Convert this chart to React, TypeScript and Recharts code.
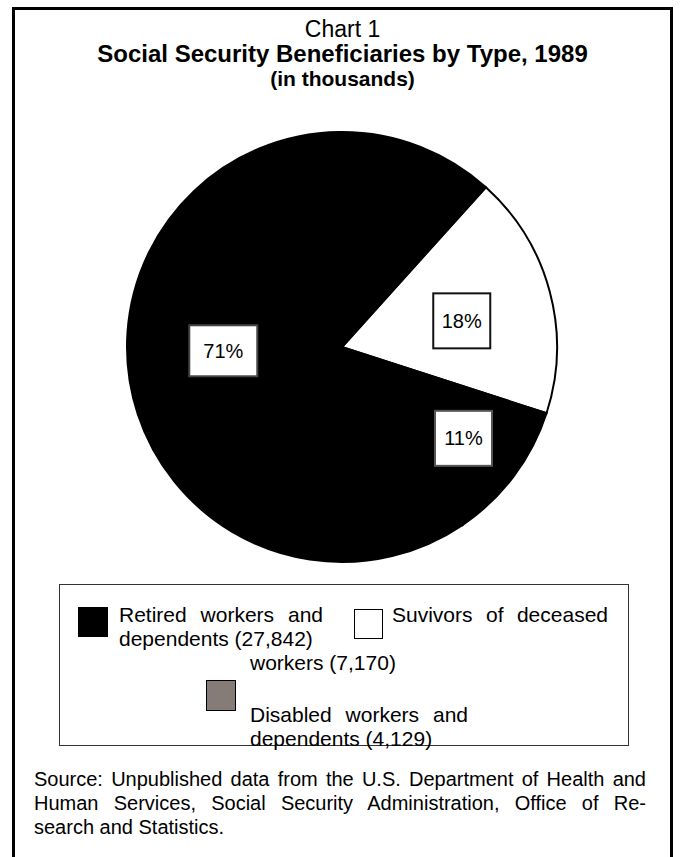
import React from "react";
import { PieChart, Pie, Cell } from "recharts";

// 1989 beneficiaries, in thousands (drawn clockwise from the survivors slice)
const categories = [
  "Suvivors of deceased workers",
  "Disabled workers and dependents",
  "Retired workers and dependents",
];
const values = [7170, 4129, 27842];
const percentLabels = ["18%", "11%", "71%"];
const sliceColors = ["#ffffff", "#000000", "#000000"];
const legendColors = ["#ffffff", "#857c77", "#000000"];

const sourceLines = [
  "Source: Unpublished data from the U.S. Department of Health and",
  "Human Services, Social Security Administration, Office of Re-",
  "search and Statistics.",
];

const data = categories.map((name, i) => ({ name, value: values[i], label: percentLabels[i] }));

const RAD = Math.PI / 180;
const labelRadius = [124, 152, 119];
const labelShift = [6, 0, 12];
const labelBox = [
  [57, 55],
  [57, 55],
  [68, 51],
];
const labelStroke = ["#111", "#555", "#444"];

const renderLabel = (props: any) => {
  const { cx, cy, midAngle, index } = props;
  const r = labelRadius[index];
  const x = cx + r * Math.cos(-midAngle * RAD);
  const y = cy + r * Math.sin(-midAngle * RAD) + labelShift[index];
  const [w, h] = labelBox[index];
  return (
    <g>
      <rect x={x - w / 2} y={y - h / 2} width={w} height={h} fill="#fff" stroke={labelStroke[index]} strokeWidth={2} />
      <text x={x} y={y} textAnchor="middle" dominantBaseline="central" fontSize={20} fill="#000"
        fontFamily='"Liberation Sans", Arial, sans-serif'>
        {data[index].label}
      </text>
    </g>
  );
};

const abs = (s: React.CSSProperties): React.CSSProperties => ({ position: "absolute", margin: 0, ...s });
const justified: React.CSSProperties = { textAlign: "justify", textAlignLast: "justify" };

export default function App() {
  return (
    <div style={abs({ left: 0, top: 0, width: 685, height: 857, background: "#fff", overflow: "hidden",
      fontFamily: '"Liberation Sans", Arial, sans-serif', color: "#000" })}>
      <div style={abs({ left: 12, top: 7, width: 655, height: 900, border: "3px solid #000" })} />

      <div style={abs({ left: 0, top: 16, width: 685, textAlign: "center", fontSize: 23, lineHeight: "26px" })}>Chart 1</div>
      <div style={abs({ left: 0, top: 40, width: 685, textAlign: "center", fontSize: 24, lineHeight: "27px", fontWeight: "bold" })}>
        Social Security Beneficiaries by Type, 1989
      </div>
      <div style={abs({ left: 0, top: 67, width: 685, textAlign: "center", fontSize: 21, lineHeight: "24px", fontWeight: "bold" })}>
        (in thousands)
      </div>

      <div style={abs({ left: 0, top: 0 })}>
        <PieChart width={685} height={590} margin={{ top: 0, right: 0, bottom: 0, left: 0 }}>
          <Pie
            data={data}
            dataKey="value"
            nameKey="name"
            cx={342}
            cy={347}
            outerRadius={215}
            startAngle={48}
            endAngle={-312}
            stroke="#000"
            strokeWidth={2}
            label={renderLabel}
            labelLine={false}
            isAnimationActive={false}
          >
            {data.map((d, i) => (
              <Cell key={d.name} fill={sliceColors[i]} />
            ))}
          </Pie>
        </PieChart>
      </div>

      {/* legend */}
      <div style={abs({ left: 59, top: 584, width: 568, height: 160, border: "1.5px solid #333" })} />
      <div style={abs({ left: 78, top: 607, width: 30, height: 30, background: legendColors[2], border: "1px solid #000", boxSizing: "border-box" })} />
      <div style={abs({ left: 354, top: 609, width: 29, height: 30, background: legendColors[0], border: "1.5px solid #000", boxSizing: "border-box" })} />
      <div style={abs({ left: 206, top: 680, width: 30, height: 31, background: legendColors[1], border: "1.5px solid #000", boxSizing: "border-box" })} />

      <div style={abs({ left: 119, top: 603, width: 204, fontSize: 21, lineHeight: "24px", ...justified })}>Retired workers and</div>
      <div style={abs({ left: 119, top: 627, fontSize: 21, lineHeight: "24px" })}>dependents (27,842)</div>
      <div style={abs({ left: 392, top: 603, width: 216, fontSize: 21, lineHeight: "24px", ...justified })}>Suvivors of deceased</div>
      <div style={abs({ left: 250, top: 651, fontSize: 21, lineHeight: "24px" })}>workers (7,170)</div>
      <div style={abs({ left: 250, top: 703, width: 218, fontSize: 21, lineHeight: "24px", ...justified })}>Disabled workers and</div>
      <div style={abs({ left: 250, top: 727, fontSize: 21, lineHeight: "24px" })}>dependents (4,129)</div>

      {/* source note */}
      {sourceLines.map((line, i) => (
        <div key={line} style={abs({ left: 34, top: 767 + i * 24, width: 612, fontSize: 20, lineHeight: "24px",
          ...(i < sourceLines.length - 1 ? justified : {}) })}>
          {line}
        </div>
      ))}
    </div>
  );
}
